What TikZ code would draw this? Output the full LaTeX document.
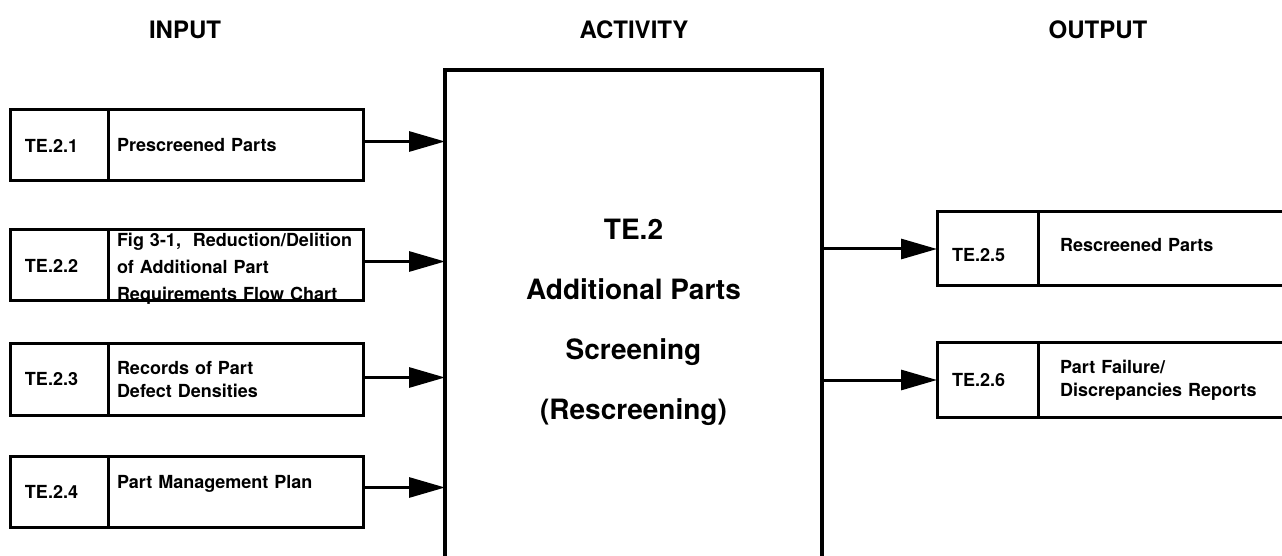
\documentclass[tikz,border=0pt]{standalone}
\usepackage{fontspec}
\setmainfont{TeX Gyre Heros}
\usetikzlibrary{arrows.meta, positioning}

\begin{document}
\begin{tikzpicture}[
    x=0.5pt, y=-0.5pt,
    font=\bfseries,
    heading/.style={font=\fontsize{12}{14}\selectfont\bfseries},
    cell/.style={
      draw,
      line width=1.5pt,
      outer sep=0pt,
      inner ysep=0pt,
      align=left,
      font=\fontsize{9}{11.5}\selectfont\bfseries,
    },
    idcell/.style={cell, anchor=north west, text width=34pt, inner xsep=7.5pt, minimum height=35.5pt},
    desccell/.style={cell, text width=118.5pt, inner xsep=4.5pt, minimum height=35.5pt},
    stage/.style={
      draw,
      line width=2pt,
      outer sep=0pt,
      anchor=north west,
      minimum width=188.5pt,
      minimum height=252pt,
      align=center,
      font=\fontsize{14}{30}\selectfont\bfseries,
    },
    feed/.style={line width=1.5pt, -{Triangle[length=18pt, width=10pt]}},
  ]
  \clip (0,0) rectangle (1282,556);

  \node[heading] (hin) at (185,30) {INPUT};
  \node[heading] (hact) at (634,30) {ACTIVITY};
  \node[heading] (hout) at (1098,30) {OUTPUT};

  \node[stage] (act) at (445,70) {TE.2\\Additional Parts\\Screening\\(Rescreening)};

  % inputs
  \node[idcell] (in1) at (10,110) {TE.2.1};
  \node[desccell, right=0pt of in1] (in1d) {Prescreened Parts};
  \node[idcell] (in2) at (10,230) {TE.2.2};
  \node[desccell, right=0pt of in2] (in2d) {\raisebox{-4pt}[15pt][15pt]{\parbox[c]{118.5pt}{\baselineskip=13.5pt
    Fig 3-1,~ Reduction/Delition\\of Additional Part\\Requirements Flow Chart}}};
  \node[idcell] (in3) at (10,344) {TE.2.3};
  \node[desccell, right=0pt of in3] (in3d) {Records of Part\\Defect Densities};
  \node[idcell] (in4) at (10,456) {TE.2.4};
  \node[desccell, right=0pt of in4] (in4d) {\raisebox{4pt}[\height][\depth]{Part Management Plan}};

  \draw[feed] ([yshift=2pt]in1d.east) -- ([yshift=2pt]in1d.east -| act.west);
  \draw[feed] ([yshift=2pt]in2d.east) -- ([yshift=2pt]in2d.east -| act.west);
  \draw[feed] ([yshift=1pt]in3d.east) -- ([yshift=1pt]in3d.east -| act.west);
  \draw[feed] ([yshift=2pt]in4d.east) -- ([yshift=2pt]in4d.east -| act.west);

  % outputs
  \node[idcell, text width=35.5pt, minimum height=37pt] (out1) at (937,212) {\raisebox{-3pt}[\height][\depth]{TE.2.5}};
  \node[desccell, text width=109pt, inner xsep=11pt, minimum height=37pt, right=0pt of out1] (out1d) {\raisebox{2pt}[\height][\depth]{Rescreened Parts}};
  \node[idcell, text width=35.5pt, minimum height=37pt] (out2) at (937,343) {TE.2.6};
  \node[desccell, text width=109pt, inner xsep=11pt, minimum height=37pt, right=0pt of out2] (out2d) {Part Failure/\\Discrepancies Reports};

  \draw[feed] (act.east |- out1.west) -- (out1.west);
  \draw[feed] (act.east |- out2.west) -- (out2.west);
\end{tikzpicture}
\end{document}
